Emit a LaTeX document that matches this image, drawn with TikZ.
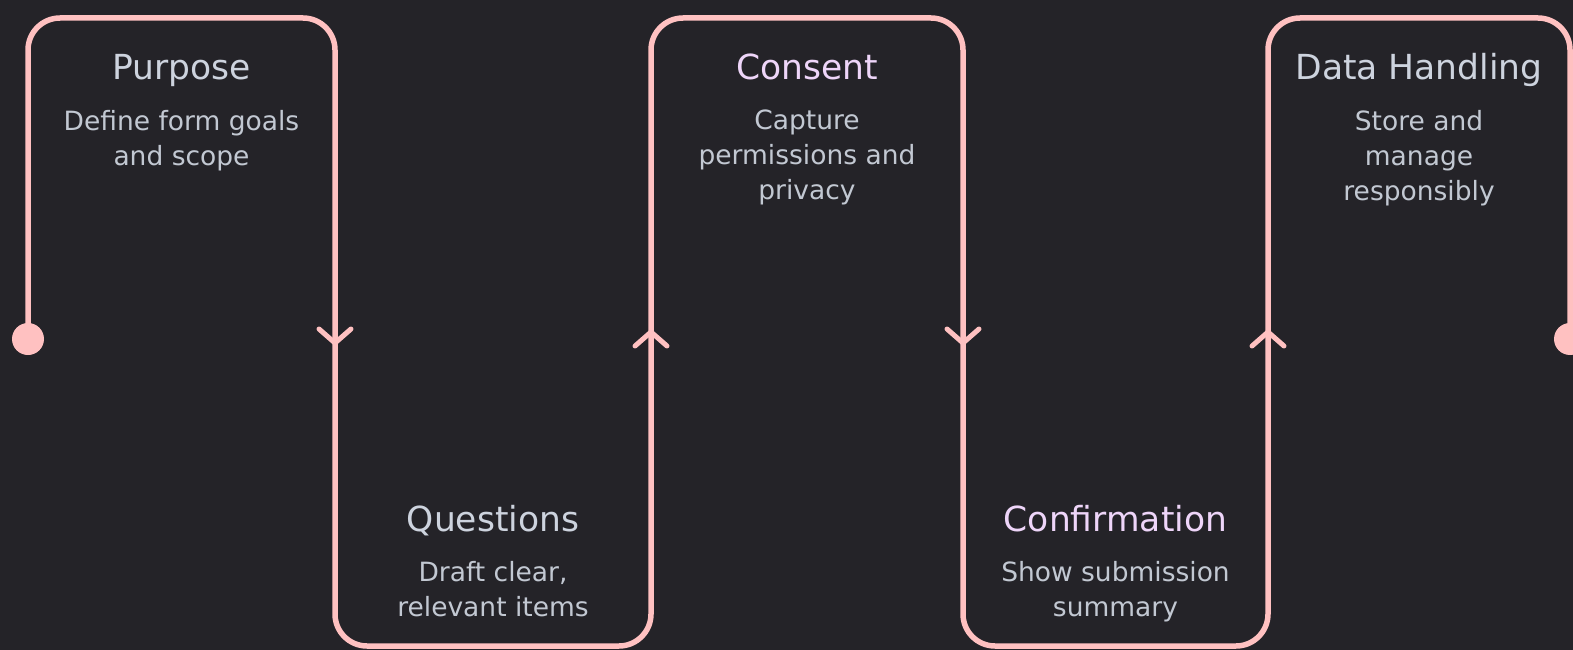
\documentclass[tikz,border=0pt]{standalone}
\usepackage{fontspec}
\setmainfont{DejaVu Sans}
\usetikzlibrary{positioning}
\definecolor{bgdark}{HTML}{242328}
\definecolor{pinkline}{HTML}{FFC1C1}
\definecolor{titlegray}{HTML}{CDD3DE}
\definecolor{titlepurple}{HTML}{EED5F9}
\definecolor{bodygray}{HTML}{C2C8D2}

\begin{document}
\begin{tikzpicture}[x=1pt, y=-1pt, node distance=30pt,
        flow/.style = {draw=pinkline, line width=5.5pt, rounded corners=32pt},
        barb/.style = {draw=pinkline, line width=5pt, line cap=round, line join=round},
        title/.style = {font=\fontsize{34.5}{40}\selectfont, text=titlegray, inner sep=0pt, anchor=base},
        titlehi/.style = {title, text=titlepurple},
        body/.style = {font=\fontsize{26.5}{35}\selectfont, text=bodygray, align=center, inner sep=0pt}]
        \fill[bgdark] (0,0) rectangle (1573,650);
        \useasboundingbox (0,0) rectangle (1573,650);

        % corners of the path
        \coordinate (start) at (28,339);
        \coordinate (c1) at (28,18);
        \coordinate (c2) at (335,18);
        \coordinate (c3) at (335,646);
        \coordinate (c4) at (651,646);
        \coordinate (c5) at (651,18);
        \coordinate (c6) at (963,18);
        \coordinate (c7) at (963,646);
        \coordinate (c8) at (1268,646);
        \coordinate (c9) at (1268,18);
        \coordinate (c10) at (1570,18);
        \coordinate (end) at (1570,339);

        % arrow tips
        \coordinate (a1) at (335,343);
        \coordinate (a2) at (651,332);
        \coordinate (a3) at (963,343);
        \coordinate (a4) at (1268,332);

        \draw[flow] (start) -- (c1) -- (c2) -- (c3) -- (c4) -- (c5) -- (c6)
            -- (c7) -- (c8) -- (c9) -- (c10) -- (end);
        \fill[pinkline] (start) circle (16);
        \fill[pinkline] (end) circle (16);

        \draw[barb] (a1) ++(-16,-14) -- (a1) -- ++(16,-14);
        \draw[barb] (a2) ++(-16,14) -- (a2) -- ++(16,14);
        \draw[barb] (a3) ++(-16,-14) -- (a3) -- ++(16,-14);
        \draw[barb] (a4) ++(-16,14) -- (a4) -- ++(16,14);

        \node[title] (purpose) at (181.5,80) {Purpose};
        \node[body, below=of purpose.base] (purpose-text) {Define form goals\\and scope};
        \node[title] (questions) at (493,531) {Questions};
        \node[body, below=of questions.base] (questions-text) {Draft clear,\\relevant items};
        \node[titlehi] (consent) at (807,80) {Consent};
        \node[body, below=of consent.base] (consent-text) {Capture\\permissions and\\privacy};
        \node[titlehi] (confirmation) at (1115.5,531) {Confirmation};
        \node[body, below=of confirmation.base] (confirmation-text) {Show submission\\summary};
        \node[title] (data-handling) at (1419,80) {Data Handling};
        \node[body, below=of data-handling.base] (data-handling-text) {Store and\\manage\\responsibly};
    \end{tikzpicture}
\end{document}
